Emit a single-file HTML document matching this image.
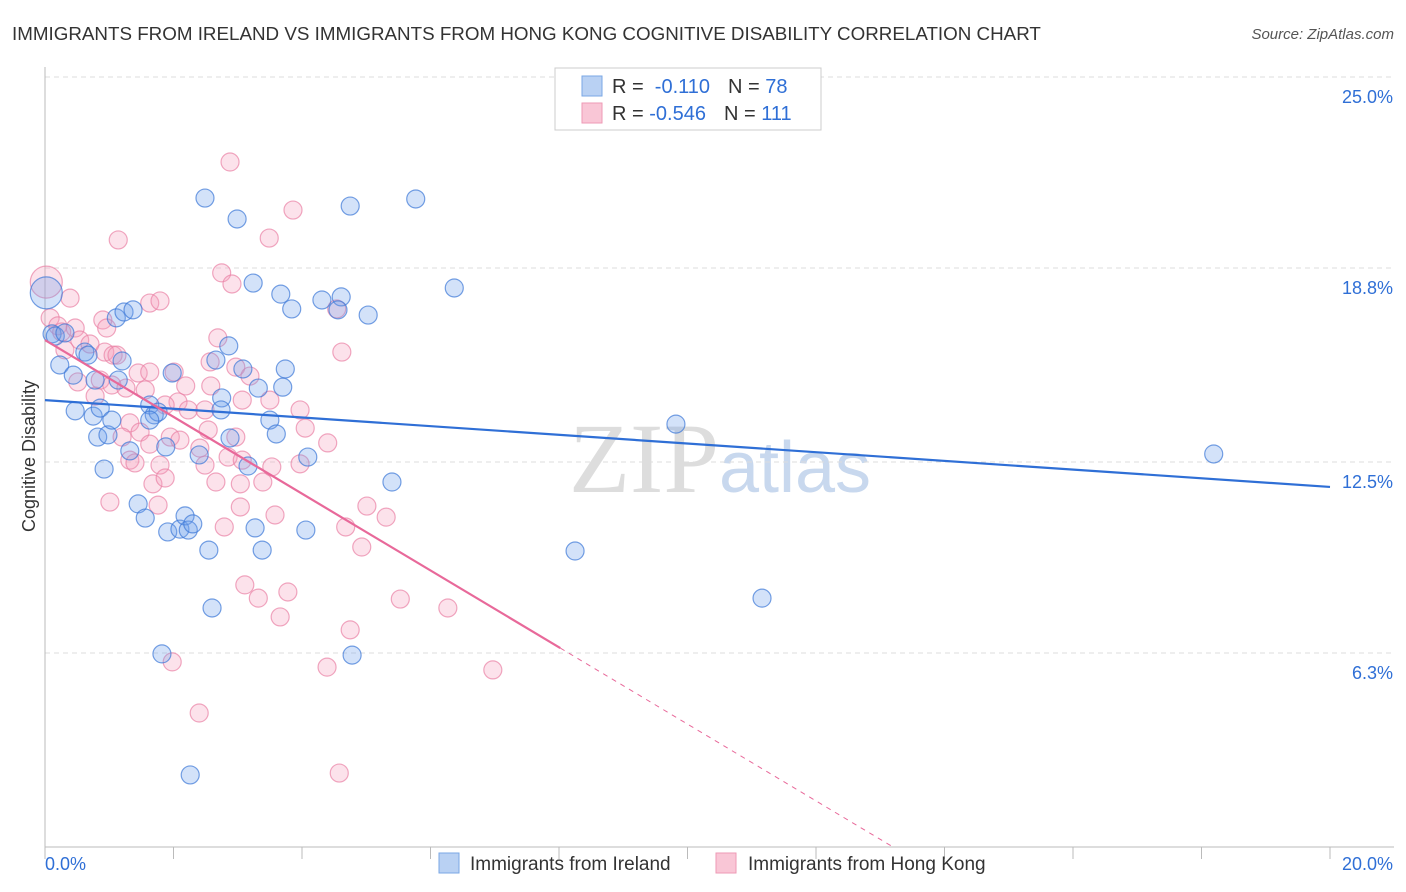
<!DOCTYPE html>
<html><head><meta charset="utf-8"><style>
body{margin:0;background:#fff;font-family:"Liberation Sans",sans-serif;}
#c{position:relative;width:1406px;height:892px;overflow:hidden}
</style></head><body>
<div id="c">
<svg id="s" width="1406" height="892" xmlns="http://www.w3.org/2000/svg">
<text x="12" y="40" font-size="18.8" fill="#333">IMMIGRANTS FROM IRELAND VS IMMIGRANTS FROM HONG KONG COGNITIVE DISABILITY CORRELATION CHART</text>
<text x="1394" y="39" font-size="15" fill="#555" font-style="italic" text-anchor="end">Source: ZipAtlas.com</text>
<text x="35" y="456" font-size="18" fill="#333" text-anchor="middle" transform="rotate(-90 35 456)">Cognitive Disability</text>
<text x="720" y="492" font-size="100" fill="#ddd" text-anchor="middle" font-family="Liberation Serif">ZIP<tspan fill="#c8d8ee" font-family="Liberation Sans" font-size="72">atlas</tspan></text>
<g id="grid"></g><g id="pts"></g><g id="trend"></g>
<g>
<rect x="555" y="68" width="266" height="62" fill="#fff" stroke="#ccc"/>
<rect x="582" y="76" width="20" height="20" fill="#b9d1f3" stroke="#7aa7e5"/>
<rect x="582" y="103" width="20" height="20" fill="#f9c6d6" stroke="#ee9ab5"/>
<text x="612" y="93" font-size="20" fill="#333">R = <tspan fill="#2f6fd6">&#160;-0.110</tspan><tspan dx="18">N = </tspan><tspan fill="#2f6fd6">78</tspan></text>
<text x="612" y="120" font-size="20" fill="#333">R = <tspan fill="#2f6fd6">-0.546</tspan><tspan dx="18">N = </tspan><tspan fill="#2f6fd6">111</tspan></text>
</g>
<g>
<rect x="439" y="853" width="20" height="20" fill="#b9d1f3" stroke="#7aa7e5"/>
<text x="470" y="870" font-size="19" fill="#333">Immigrants from Ireland</text>
<rect x="716" y="853" width="20" height="20" fill="#f9c6d6" stroke="#ee9ab5"/>
<text x="748" y="870" font-size="19" fill="#333">Immigrants from Hong Kong</text>
</g>
</svg></div>
<script>
const yTicks=[25,18.8,12.5,6.3];
const yTickLabels=["25.0%","18.8%","12.5%","6.3%"];
const xTickLabels=["0.0%","20.0%"];
const irelandX=[2.49,2.99,4.75,5.77,6.37,3.24,3.67,3.84,4.31,4.61,4.56,5.03,1.11,1.23,1.37,0.11,0.16,0.31,0.23,0.44,0.62,0.67,0.78,0.47,0.75,0.86,0.82,0.98,1.04,0.92,1.20,1.14,2.86,2.66,3.08,3.74,3.32,3.70,1.63,1.70,1.76,1.63,1.98,2.75,2.74,2.88,3.50,3.60,1.88,1.32,2.40,3.16,4.09,5.40,1.45,1.56,1.91,2.10,2.18,2.23,2.30,2.55,3.27,3.38,4.06,2.60,1.82,4.78,2.26,8.25,9.82,11.16,18.19,0.02];
const irelandY=[21.07,20.39,20.81,21.04,18.15,18.31,17.95,17.47,17.76,17.86,17.44,17.27,17.18,17.37,17.44,16.66,16.59,16.69,15.65,15.32,16.07,15.97,15.16,14.16,13.99,14.25,13.31,13.38,13.86,12.27,15.78,15.16,16.27,15.81,15.52,15.52,14.90,14.93,14.35,14.03,14.12,13.86,15.39,14.58,14.19,13.28,13.86,13.41,12.99,12.86,12.73,12.37,12.66,11.85,11.14,10.68,10.23,10.32,10.75,10.29,10.49,9.64,10.36,9.64,10.29,7.76,6.27,6.23,2.34,9.61,13.73,8.08,12.76,17.99];
const hkX=[2.88,3.86,1.14,3.49,2.75,2.91,0.02,0.39,1.63,1.79,4.54,0.08,0.20,0.26,0.47,0.90,0.96,2.69,4.62,0.31,0.54,0.70,0.93,1.06,1.12,2.57,2.97,3.19,1.45,1.63,2.01,0.51,0.86,1.04,1.26,1.56,2.19,2.58,3.07,3.50,3.97,2.07,1.87,2.23,2.49,0.78,1.32,1.20,1.48,1.95,2.54,2.97,4.05,4.40,1.63,2.10,2.41,1.32,1.40,1.79,2.85,3.07,3.53,3.97,2.49,1.68,1.87,2.66,3.04,3.39,1.01,1.76,3.04,3.58,4.68,5.01,5.31,2.79,4.93,3.11,3.32,3.78,3.66,5.53,6.27,1.98,4.39,4.75,6.97,2.40,4.58];
const hkY=[22.24,20.68,19.71,19.77,18.64,18.28,18.34,17.82,17.66,17.73,17.47,17.18,16.92,16.72,16.85,17.11,16.85,16.53,16.07,16.14,16.46,16.33,16.07,15.97,15.97,15.75,15.58,15.29,15.39,15.42,15.42,15.10,15.16,15.00,14.90,14.84,14.97,14.97,14.51,14.51,14.19,14.45,14.35,14.19,14.19,14.64,13.77,13.31,13.47,13.31,13.54,13.31,13.60,13.12,13.08,13.21,12.95,12.56,12.47,12.40,12.66,12.56,12.34,12.44,12.40,11.79,11.98,11.85,11.79,11.85,11.20,11.10,11.04,10.78,10.39,11.07,10.71,10.39,9.74,8.51,8.08,8.28,7.47,8.05,7.76,6.01,5.84,7.05,5.75,4.35,2.40];
const irelandTrend=[14.51,11.69];
const hkTrend=[16.46,-1.247];
const X0=45,X1=1330,Y0=847;
const xs=v=>X0+(v/20)*(X1-X0);
const ys=v=>Y0-v*30.8;
const NS="http://www.w3.org/2000/svg";
function mk(tag,attrs,parent){const e=document.createElementNS(NS,tag);for(const k in attrs)e.setAttribute(k,attrs[k]);document.getElementById(parent).appendChild(e);return e;}
yTicks.forEach((t,i)=>{
 const l=mk('line',{x1:X0,x2:1394,y1:ys(t),y2:ys(t),stroke:'#ddd','stroke-dasharray':'5,4'},'grid');
 
 
 const tx=mk('text',{x:1393,y:ys(t)+26,'font-size':18,fill:'#2f6fd6','text-anchor':'end'},'grid');
 tx.textContent=yTickLabels[i];
 
 
});
const ax=mk('line',{x1:X0,x2:X0,y1:67,y2:Y0,stroke:'#bbb'},'grid');


const bx=mk('line',{x1:X0,x2:1394,y1:Y0,y2:Y0,stroke:'#bbb'},'grid');


for(let i=0;i<=10;i++){const tk=mk('line',{x1:xs(i*2),x2:xs(i*2),y1:Y0,y2:Y0+12,stroke:'#bbb'},'grid');
 
 }
[[0,'start',45],[20,'end',1393]].forEach((d,i)=>{const t=mk('text',{x:d[2],y:870,'font-size':18,fill:'#2f6fd6','text-anchor':d[1]},'grid');t.textContent=xTickLabels[i];
 
 });
function pts(X,Y,fill,stroke,name){X.forEach((x,i)=>{const big=x<0.05;const c=mk('circle',{cx:xs(x),cy:ys(Y[i]),r:big?16:9,fill:fill,stroke:stroke,'stroke-width':1.2},'pts');
 
 });}
pts(hkX,hkY,'rgba(244,160,190,0.3)','rgba(234,130,165,0.7)','point-hongkong');
pts(irelandX,irelandY,'rgba(110,160,235,0.3)','rgba(60,120,215,0.7)','point-ireland');
const bl=mk('line',{x1:xs(0),y1:ys(irelandTrend[0]),x2:xs(20),y2:ys(irelandTrend[1]),stroke:'#2f6fd6','stroke-width':2.2},'trend');


const xe=8.02, xz=-hkTrend[0]/hkTrend[1];
const pl=mk('line',{x1:xs(0),y1:ys(hkTrend[0]),x2:xs(xe),y2:ys(hkTrend[0]+hkTrend[1]*xe),stroke:'#e8699a','stroke-width':2.2},'trend');


const pd=mk('line',{x1:xs(xe),y1:ys(hkTrend[0]+hkTrend[1]*xe),x2:xs(xz),y2:ys(0),stroke:'#e8699a','stroke-width':1,'stroke-dasharray':'5,5'},'trend');


</script>
</body></html>
